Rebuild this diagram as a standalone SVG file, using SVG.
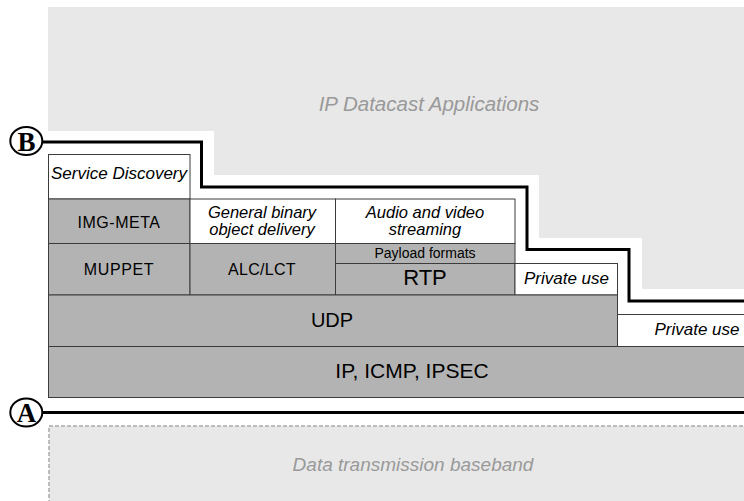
<svg xmlns="http://www.w3.org/2000/svg" width="744" height="501" viewBox="0 0 744 501">
  <style>
    .t { font-family: "Liberation Sans", Arial, sans-serif; fill: #000; text-anchor: middle; }
    .it { font-style: italic; }
    .zone { fill: #e8e8e8; }
    .zlabel { font-family: "Liberation Sans", Arial, sans-serif; font-style: italic; fill: #999; text-anchor: middle; }
    .box { stroke: #3c3c3c; stroke-width: 1; }
    .w { fill: #ffffff; }
    .g { fill: #b3b3b3; }
    .ref { fill: none; stroke: #000; stroke-width: 3; }
    .mark { fill: #fff; stroke: #000; stroke-width: 2; }
    .ml { font-family: "Liberation Serif", "Times New Roman", serif; font-weight: bold; font-size: 27px; text-anchor: middle; fill: #000; }
  </style>
  <rect width="744" height="501" fill="#fff"/>

  <!-- application area above the stack -->
  <g id="applications">
    <polygon class="zone" points="48,7 780,7 780,289 642,289 642,238 539,238 539,175 214,175 214,131 48,131"/>
    <text class="zlabel" x="429" y="111" font-size="20.5">IP Datacast Applications</text>
  </g>

  <!-- protocol stack -->
  <g id="service-discovery">
    <rect class="box w" x="48.5" y="154.5" width="141.5" height="44.5"/>
    <text class="t it" x="119" y="179" font-size="17">Service Discovery</text>
  </g>
  <g id="img-meta">
    <rect class="box g" x="48.5" y="199" width="141.5" height="44.5"/>
    <text class="t" x="119" y="228" font-size="16" letter-spacing="0.5">IMG-META</text>
  </g>
  <g id="binary-delivery">
    <rect class="box w" x="190" y="199" width="145.5" height="44.5"/>
    <text class="t it" x="262" y="217.5" font-size="16.5">General binary</text>
    <text class="t it" x="262" y="235" font-size="16.5">object delivery</text>
  </g>
  <g id="av-streaming">
    <rect class="box w" x="335.5" y="199" width="179.5" height="44.5"/>
    <text class="t it" x="425" y="217.5" font-size="16.5">Audio and video</text>
    <text class="t it" x="425" y="235" font-size="16.5">streaming</text>
  </g>
  <g id="muppet">
    <rect class="box g" x="48.5" y="243.5" width="141.5" height="51.5"/>
    <text class="t" x="119" y="275" font-size="16" letter-spacing="0.6">MUPPET</text>
  </g>
  <g id="alc-lct">
    <rect class="box g" x="190" y="243.5" width="145.5" height="51.5"/>
    <text class="t" x="262" y="275" font-size="16" letter-spacing="0.3">ALC/LCT</text>
  </g>
  <g id="payload-formats">
    <rect class="box g" x="335.5" y="243.5" width="179.5" height="20"/>
    <text class="t" x="425" y="258" font-size="14">Payload formats</text>
  </g>
  <g id="rtp">
    <rect class="box g" x="335.5" y="263.5" width="179.5" height="31.5"/>
    <text class="t" x="425" y="285" font-size="22">RTP</text>
  </g>
  <g id="private-use-1">
    <rect class="box w" x="515" y="263.5" width="102.5" height="31.5"/>
    <text class="t it" x="566.5" y="284" font-size="17">Private use</text>
  </g>
  <g id="udp">
    <rect class="box g" x="48.5" y="295" width="569" height="51.5"/>
    <text class="t" x="332" y="327" font-size="20">UDP</text>
  </g>
  <g id="private-use-2">
    <rect class="box w" x="617.5" y="314.5" width="162" height="32"/>
    <text class="t it" x="697" y="335" font-size="17">Private use</text>
  </g>
  <g id="ip">
    <rect class="box g" x="48.5" y="346.5" width="731" height="51"/>
    <text class="t" x="412" y="378" font-size="21">IP, ICMP, IPSEC</text>
  </g>

  <!-- baseband area below the stack -->
  <g id="baseband">
    <rect x="49" y="426" width="731" height="100" fill="#e8e8e8" stroke="#aaa" stroke-width="1.5" stroke-dasharray="4 2"/>
    <text class="zlabel" x="413" y="471" font-size="19">Data transmission baseband</text>
  </g>

  <!-- reference points A and B -->
  <g id="connectors">
    <path class="ref" d="M42,142 H201.5 V187 H527 V249.5 H629 V301 H744"/>
    <path class="ref" d="M42,412.5 H744"/>
  </g>
  <g id="point-b">
    <ellipse class="mark" cx="26.3" cy="141" rx="16" ry="14"/>
    <text class="ml" x="26.5" y="150.5">B</text>
  </g>
  <g id="point-a">
    <ellipse class="mark" cx="26.3" cy="412.5" rx="16" ry="14"/>
    <text class="ml" x="26.5" y="421.5">A</text>
  </g>
</svg>
